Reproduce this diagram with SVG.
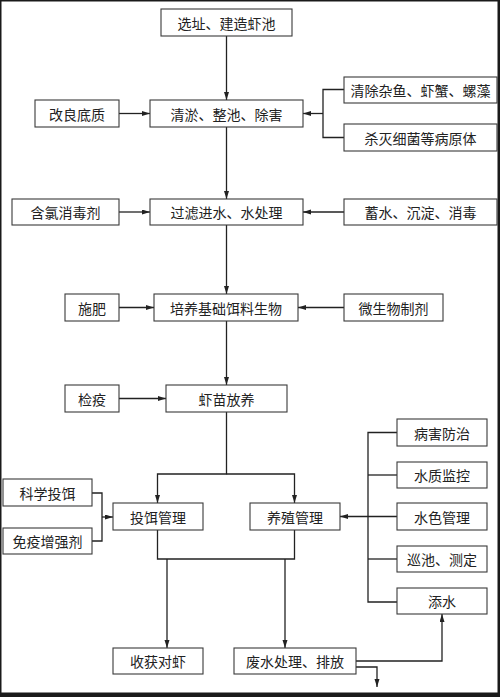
<svg xmlns="http://www.w3.org/2000/svg" width="500" height="697" viewBox="0 0 500 697">
<style>
.box{fill:#fff;stroke:#3a3a3a;stroke-width:1.1}
.t{font-family:"Noto Sans CJK SC","Liberation Sans",sans-serif;font-size:14px;fill:#222;text-anchor:middle;dominant-baseline:central}
.c path{fill:none;stroke:#222;stroke-width:1.3}
</style>
<defs>
<marker id="a" markerUnits="userSpaceOnUse" markerWidth="9" markerHeight="6" refX="8" refY="2.5" orient="auto">
<path d="M0,0 L8,2.5 L0,5 Z" fill="#222"/>
</marker>
</defs>
<rect width="500" height="697" fill="#fff"/>
<path d="M0,0 H500 V697 H0 Z M1.5,1.5 V692.5 H497.5 V1.5 Z" fill="#1a1a1a" fill-rule="evenodd"/>
<g class="c" id="connectors">
<path d="M226.5,36 V100" marker-end="url(#a)"/>
<path d="M119,113.5 H150" marker-end="url(#a)"/>
<path d="M344,89.5 H323 V137.5 H344"/>
<path d="M323,113.5 H303" marker-end="url(#a)"/>
<path d="M226.5,127 V199" marker-end="url(#a)"/>
<path d="M119,212 H150" marker-end="url(#a)"/>
<path d="M344,212 H303" marker-end="url(#a)"/>
<path d="M226.5,225 V294" marker-end="url(#a)"/>
<path d="M119,307.5 H154" marker-end="url(#a)"/>
<path d="M344,307.5 H298" marker-end="url(#a)"/>
<path d="M226.5,321 V385" marker-end="url(#a)"/>
<path d="M119,398.5 H166" marker-end="url(#a)"/>
<path d="M226.5,412 V474 H157.5 V503" marker-end="url(#a)"/>
<path d="M226.5,474 H294.5 V503" marker-end="url(#a)"/>
<path d="M92,493 H102 V541 H92"/>
<path d="M102,517 H113" marker-end="url(#a)"/>
<path d="M397,432.5 H368 V602 H397"/>
<path d="M368,475 H397"/>
<path d="M368,559 H397"/>
<path d="M397,516.5 H340" marker-end="url(#a)"/>
<path d="M157.5,530 V559 H294.5 V530"/>
<path d="M167,559 V648" marker-end="url(#a)"/>
<path d="M285,559 V648" marker-end="url(#a)"/>
<path d="M356,661 H442 V614" marker-end="url(#a)"/>
<path d="M356,667 H377 V687" marker-end="url(#a)"/>
</g>
<g id="n1"><rect class="box" x="161" y="9" width="131" height="27"/><text class="t" x="226.5" y="22.5">选址、建造虾池</text></g>
<g id="n2"><rect class="box" x="150" y="100" width="153" height="27"/><text class="t" x="226.5" y="113.5">清淤、整池、除害</text></g>
<g id="n3"><rect class="box" x="35" y="100" width="84" height="27"/><text class="t" x="77" y="113.5">改良底质</text></g>
<g id="n4"><rect class="box" x="344" y="77" width="153" height="26"/><text class="t" x="420.5" y="90">清除杂鱼、虾蟹、螺藻</text></g>
<g id="n5"><rect class="box" x="344" y="124" width="153" height="27"/><text class="t" x="420.5" y="137.5">杀灭细菌等病原体</text></g>
<g id="n6"><rect class="box" x="150" y="199" width="153" height="26"/><text class="t" x="226.5" y="212">过滤进水、水处理</text></g>
<g id="n7"><rect class="box" x="12" y="199" width="107" height="26"/><text class="t" x="65.5" y="212">含氯消毒剂</text></g>
<g id="n8"><rect class="box" x="344" y="199" width="153" height="26"/><text class="t" x="420.5" y="212">蓄水、沉淀、消毒</text></g>
<g id="n9"><rect class="box" x="154" y="294" width="144" height="27"/><text class="t" x="226" y="307.5">培养基础饵料生物</text></g>
<g id="n10"><rect class="box" x="65" y="294" width="54" height="27"/><text class="t" x="92" y="307.5">施肥</text></g>
<g id="n11"><rect class="box" x="344" y="294" width="99" height="27"/><text class="t" x="393.5" y="307.5">微生物制剂</text></g>
<g id="n12"><rect class="box" x="166" y="385" width="121" height="27"/><text class="t" x="226.5" y="398.5">虾苗放养</text></g>
<g id="n13"><rect class="box" x="65" y="385" width="54" height="27"/><text class="t" x="92" y="398.5">检疫</text></g>
<g id="n14"><rect class="box" x="397" y="419" width="90" height="27"/><text class="t" x="442" y="432.5">病害防治</text></g>
<g id="n15"><rect class="box" x="397" y="462" width="90" height="26"/><text class="t" x="442" y="475">水质监控</text></g>
<g id="n16"><rect class="box" x="397" y="503" width="90" height="27"/><text class="t" x="442" y="516.5">水色管理</text></g>
<g id="n17"><rect class="box" x="397" y="546" width="90" height="26"/><text class="t" x="442" y="559">巡池、测定</text></g>
<g id="n18"><rect class="box" x="397" y="588" width="90" height="26"/><text class="t" x="442" y="601">添水</text></g>
<g id="n19"><rect class="box" x="113" y="503" width="90" height="27"/><text class="t" x="158" y="516.5">投饵管理</text></g>
<g id="n20"><rect class="box" x="250" y="503" width="90" height="27"/><text class="t" x="295" y="516.5">养殖管理</text></g>
<g id="n21"><rect class="box" x="3" y="479" width="89" height="27"/><text class="t" x="47.5" y="492.5">科学投饵</text></g>
<g id="n22"><rect class="box" x="3" y="528" width="89" height="26"/><text class="t" x="47.5" y="541">免疫增强剂</text></g>
<g id="n23"><rect class="box" x="113" y="648" width="90" height="26"/><text class="t" x="158" y="661">收获对虾</text></g>
<g id="n24"><rect class="box" x="234" y="648" width="122" height="26"/><text class="t" x="295" y="661">废水处理、排放</text></g>
</svg>
